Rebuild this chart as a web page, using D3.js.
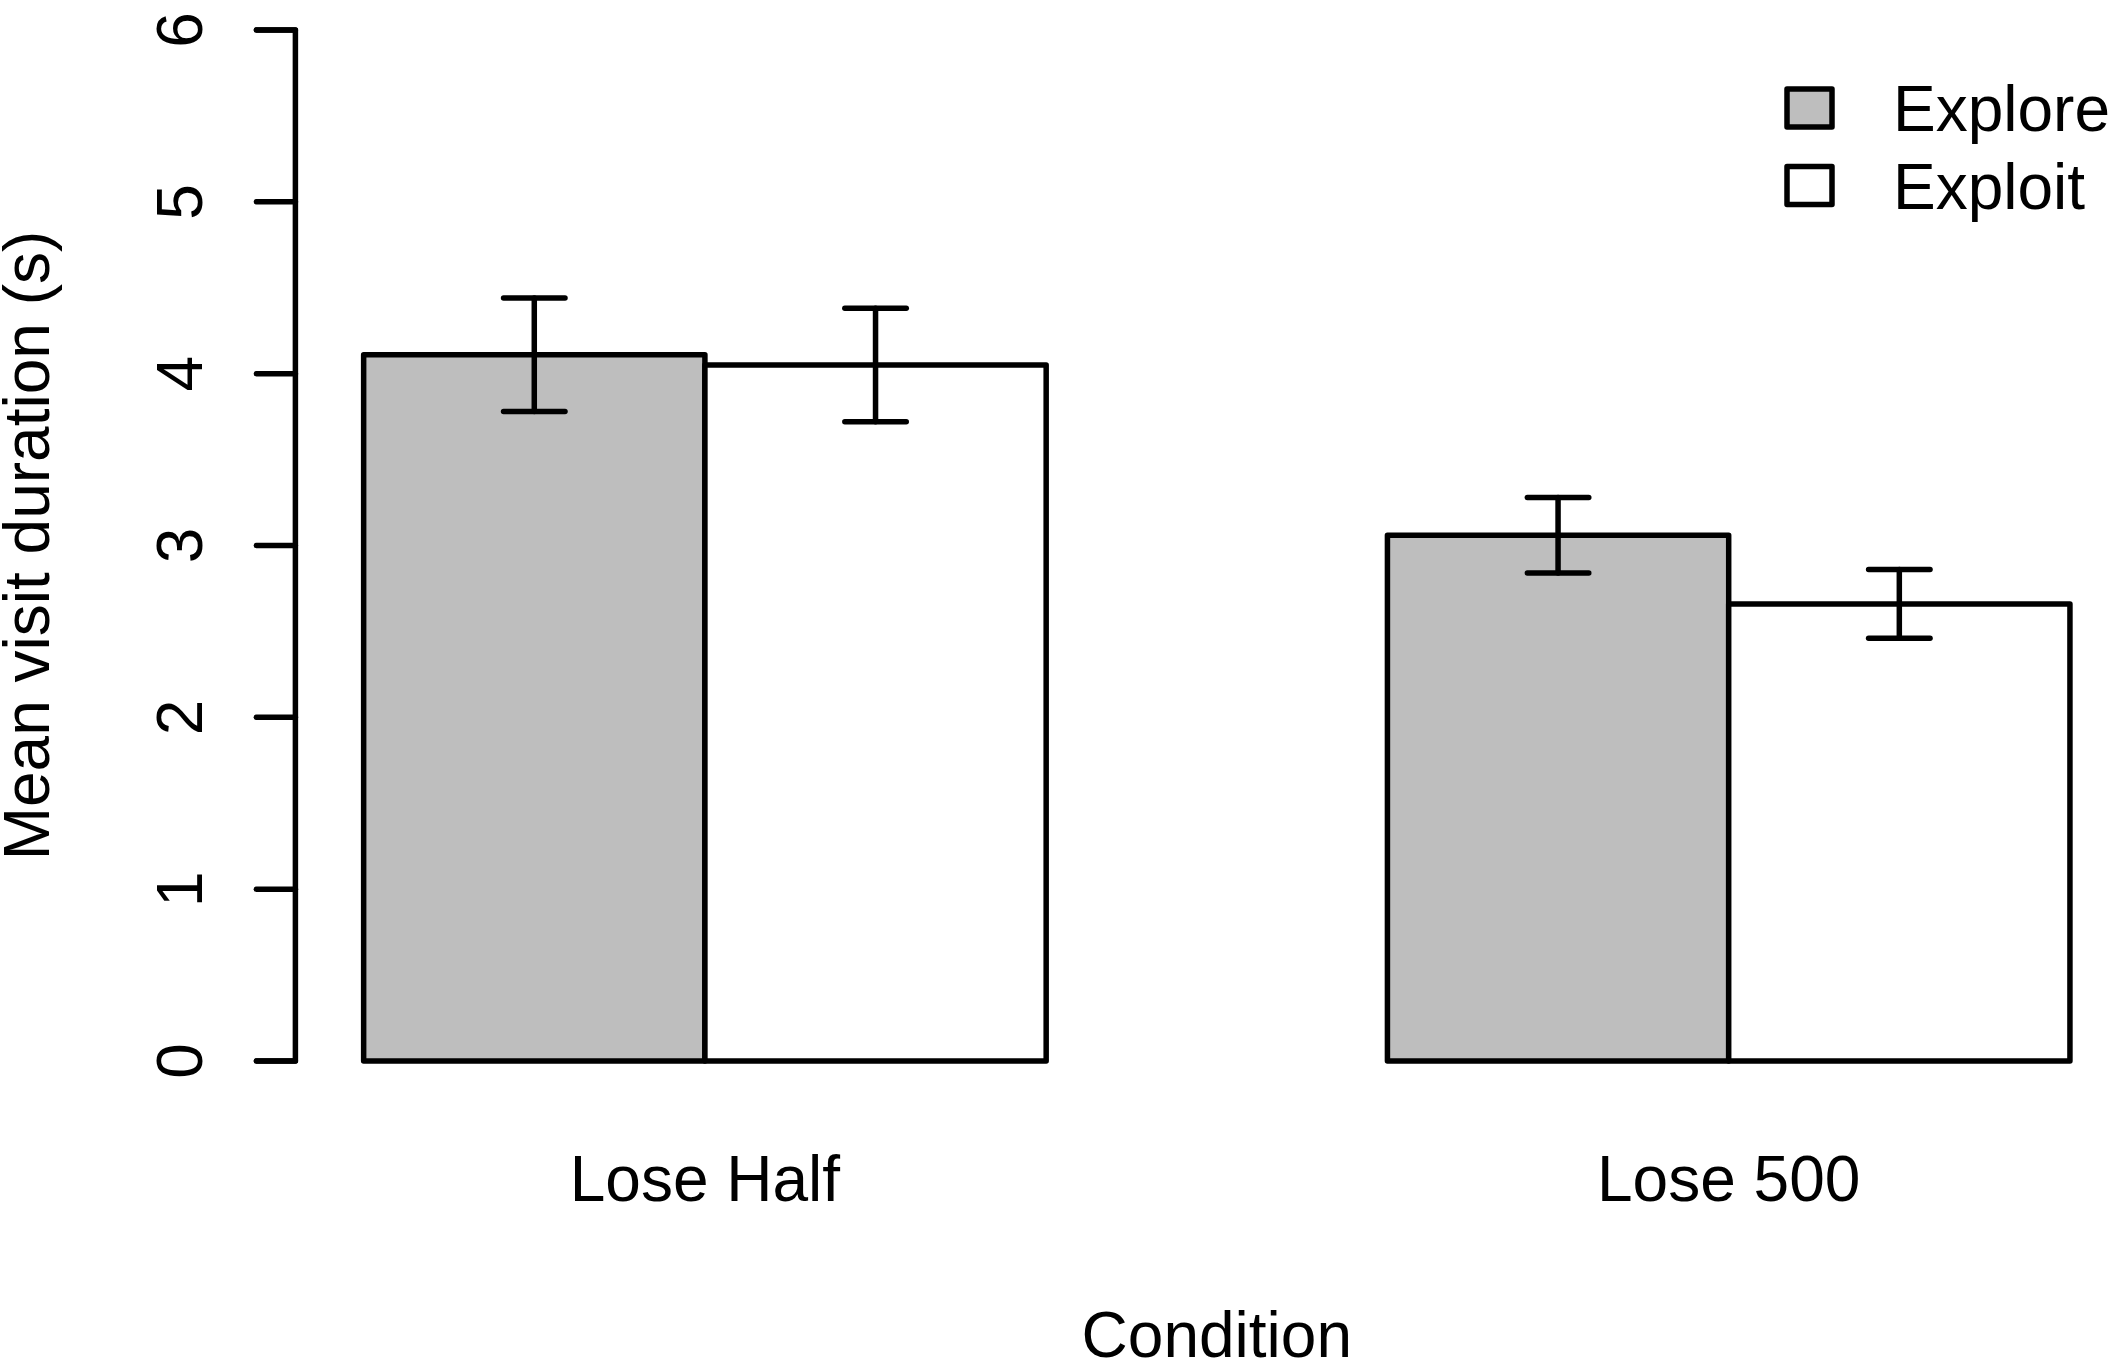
<!DOCTYPE html>
<html>
<head>
<meta charset="utf-8">
<script src="https://cdn.jsdelivr.net/npm/d3@7"></script>
<style>
  html, body { margin: 0; padding: 0; background: #ffffff; }
  svg { display: block; }
  text { font-family: "Liberation Sans", Arial, Helvetica, sans-serif; fill: #000; }
</style>
</head>
<body>
<svg id="chart" width="2112" height="1364"></svg>
<script>
// ---- data ----
const categories = ["Lose Half", "Lose 500"];
const seriesNames = ["Explore", "Exploit"];
const seriesFill = ["#bebebe", "#ffffff"];
const exploreMeans = [4.11, 3.06];
const exploitMeans = [4.05, 2.66];
const exploreErr = [0.33, 0.22];
const exploitErr = [0.33, 0.20];
const yTicks = [0, 1, 2, 3, 4, 5, 6];
const xTitle = "Condition";
const yTitle = "Mean visit duration (s)";

const means = [exploreMeans, exploitMeans];
const errs = [exploreErr, exploitErr];

// ---- layout ----
const W = 2112, H = 1364;
const svg = d3.select("#chart");
const LW = 5.5;
const FS = 64;

// R barplot coordinates: bars occupy [1,6], xlim extended 4%
const x = d3.scaleLinear().domain([0.8, 6.2]).range([295.4, 2138.2]);
const y = d3.scaleLinear().domain([0, 6]).range([1061, 30]);

// bar records
const bars = [];
categories.forEach((c, i) => {
  seriesNames.forEach((s, j) => {
    const left = 1 + i * 3 + j;
    bars.push({ cat: c, series: j, left: left, right: left + 1,
                value: means[j][i], err: errs[j][i] });
  });
});

// bars
svg.append("g").selectAll("rect").data(bars).join("rect")
  .attr("x", d => x(d.left))
  .attr("y", d => y(d.value))
  .attr("width", d => x(d.right) - x(d.left))
  .attr("height", d => y(0) - y(d.value))
  .attr("fill", d => seriesFill[d.series])
  .attr("stroke", "#000")
  .attr("stroke-width", LW)
  .attr("stroke-linejoin", "round");

// error bars
const capHalf = 0.09;
const eg = svg.append("g").attr("stroke", "#000").attr("stroke-width", LW)
  .attr("stroke-linecap", "round").attr("fill", "none");
bars.forEach(d => {
  const cx = (d.left + d.right) / 2;
  eg.append("line").attr("x1", x(cx)).attr("x2", x(cx))
    .attr("y1", y(d.value - d.err)).attr("y2", y(d.value + d.err));
  [d.value - d.err, d.value + d.err].forEach(v => {
    eg.append("line").attr("x1", x(cx - capHalf)).attr("x2", x(cx + capHalf))
      .attr("y1", y(v)).attr("y2", y(v));
  });
});

// y axis (R style)
const axisX = x(0.8);
const ag = svg.append("g").attr("stroke", "#000").attr("stroke-width", LW)
  .attr("stroke-linecap", "round").attr("fill", "none");
ag.append("path")
  .attr("d", `M${axisX - 39},${y(6)}H${axisX}V${y(0)}H${axisX - 39}`)
  .attr("stroke-linejoin", "round");
yTicks.forEach(t => {
  ag.append("line").attr("x1", axisX - 39).attr("x2", axisX)
    .attr("y1", y(t)).attr("y2", y(t));
});
svg.append("g").selectAll("text").data(yTicks).join("text")
  .attr("transform", d => `translate(202,${y(d)}) rotate(-90)`)
  .attr("text-anchor", "middle")
  .attr("font-size", FS)
  .text(d => d);

// y title
svg.append("text")
  .attr("transform", `translate(48.5,${(y(0) + y(6)) / 2}) rotate(-90)`)
  .attr("text-anchor", "middle")
  .attr("font-size", FS)
  .text(yTitle);

// category labels
svg.append("g").selectAll("text").data(categories).join("text")
  .attr("x", (d, i) => x(2 + i * 3))
  .attr("y", 1201)
  .attr("text-anchor", "middle")
  .attr("font-size", FS)
  .text(d => d);

// x title
svg.append("text")
  .attr("x", x(3.5))
  .attr("y", 1357)
  .attr("text-anchor", "middle")
  .attr("font-size", FS)
  .text(xTitle);

// legend
const leg = svg.append("g");
seriesNames.forEach((s, j) => {
  const cy = 108 + j * 77.5;
  leg.append("rect")
    .attr("x", 1787).attr("y", cy - 19)
    .attr("width", 45).attr("height", 38)
    .attr("fill", seriesFill[j])
    .attr("stroke", "#000").attr("stroke-width", LW)
    .attr("stroke-linejoin", "round");
  leg.append("text")
    .attr("x", 1893).attr("y", cy + 23)
    .attr("font-size", FS)
    .text(s);
});
</script>
</body>
</html>
